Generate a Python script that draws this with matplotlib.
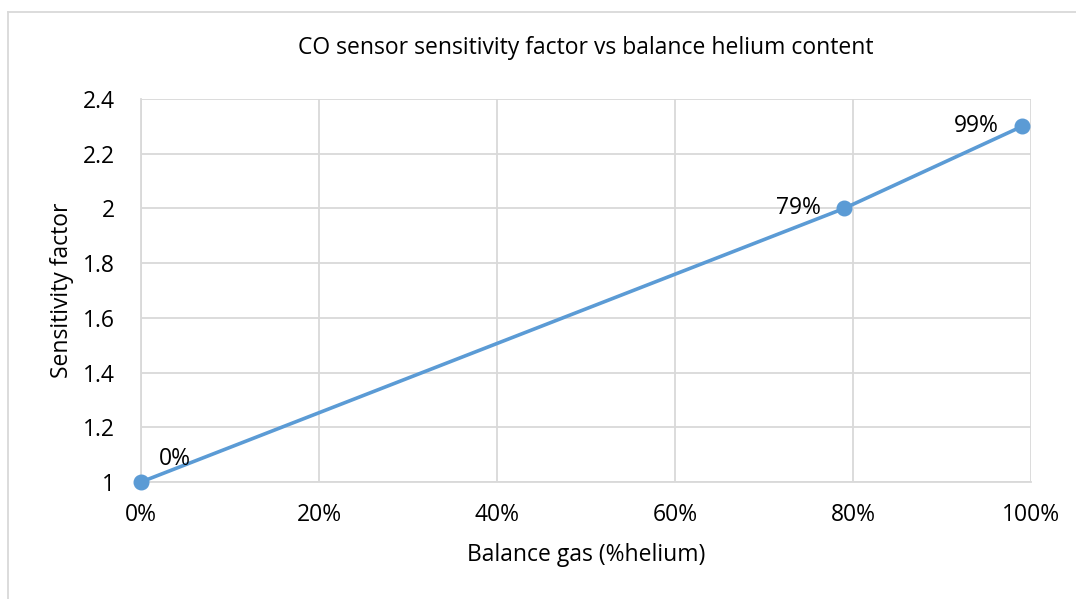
import matplotlib.pyplot as plt
from matplotlib.lines import Line2D
from matplotlib.ticker import PercentFormatter

# data
helium = [0.0, 0.79, 0.99]
sensitivity = [1.0, 2.0, 2.3]
point_labels = ["0%", "79%", "99%"]
label_offsets = [(34, 23), (-46, 0), (-46, 0)]

plt.rcParams['font.family'] = ['Open Sans', 'DejaVu Sans']
grid_col = '#D9D9D9'
line_col = '#5B9BD5'
fs = 16.5

fig = plt.figure(figsize=(10.76, 5.99), dpi=100)
ax = fig.add_axes([141 / 1076, 1 - 482 / 599, 890 / 1076, 383 / 599])

ax.plot(helium, sensitivity, color=line_col, lw=2.6, marker='o', ms=10.5,
        solid_capstyle='round', zorder=3, clip_on=False)
for x, y, lab, off in zip(helium, sensitivity, point_labels, label_offsets):
    ax.annotate(lab, (x, y), xytext=off, textcoords='offset pixels',
                ha='center', va='center', fontsize=fs, color='#000000')

ax.set_xlim(0, 1)
ax.set_ylim(1, 2.4)
ax.set_xticks([0, 0.2, 0.4, 0.6, 0.8, 1.0])
ax.set_yticks([1, 1.2, 1.4, 1.6, 1.8, 2, 2.2, 2.4])
ax.set_yticklabels(['1', '1.2', '1.4', '1.6', '1.8', '2', '2.2', '2.4'])
ax.xaxis.set_major_formatter(PercentFormatter(1.0, decimals=0))
ax.grid(True, color=grid_col, lw=1.3)
ax.set_axisbelow(True)
for s in ['top', 'right']:
    ax.spines[s].set_visible(False)
for s in ['left', 'bottom']:
    ax.spines[s].set_color(grid_col)
    ax.spines[s].set_linewidth(1.3)
ax.tick_params(length=0, labelsize=fs, colors='#000000')
ax.tick_params(axis='x', pad=15)
ax.tick_params(axis='y', pad=19)

fig.text(0.5 * (141 + 1031) / 1076, 1 - 48 / 599,
         'CO sensor sensitivity factor vs balance helium content',
         ha='center', va='center', fontsize=fs)
fig.text(586 / 1076, 1 - 555 / 599, 'Balance gas (%helium)',
         ha='center', va='center', fontsize=fs)
fig.text(62 / 1076, 1 - 290 / 599, 'Sensitivity factor', rotation=90,
         ha='center', va='center', fontsize=fs)

# chart border (only left and top visible)
fig.add_artist(Line2D([8 / 1076, 8 / 1076], [0, 1 - 12 / 599],
                      transform=fig.transFigure, color=grid_col, lw=1.3))
fig.add_artist(Line2D([8 / 1076, 1], [1 - 12 / 599, 1 - 12 / 599],
                      transform=fig.transFigure, color=grid_col, lw=1.3))

fig.savefig('out.png', dpi=100)
